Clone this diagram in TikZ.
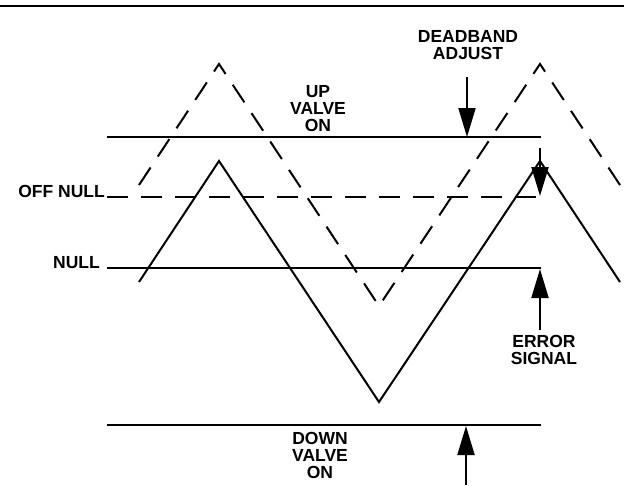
\documentclass[tikz,border=0pt]{standalone}
\usepackage{fontspec}
\setmainfont{Liberation Sans}
\usetikzlibrary{arrows.meta,positioning}

\begin{document}
\begin{tikzpicture}[x=1pt,y=-1pt,
	caption/.style={font=\fontsize{17.5}{17}\selectfont\bfseries, align=center, inner sep=0pt},
	level/.style={line width=2pt},
	offlevel/.style={line width=2pt, dash pattern=on 21pt off 13pt},
	pointer/.style={line width=2pt, -{Triangle[length=29pt,width=17pt]}},]
						\useasboundingbox (0,0) rectangle (624,485);
						\draw[line width=2.8pt] (0,6) -- (624,6);

						% levels
						\coordinate (upL) at (107,137);
						\coordinate (upR) at (541,137);
						\coordinate (offL) at (107,197);
						\coordinate (offR) at (541,197);
						\coordinate (nullL) at (107,268);
						\coordinate (nullR) at (541,268);
						\coordinate (downL) at (107,425);
						\coordinate (downR) at (541,425);
						\draw[level] (upL) -- (upR);
						\draw[offlevel] (offL) -- (offR);
						\draw[level] (nullL) -- (nullR);
						\draw[level] (downL) -- (downR);

						% error signal and shifted signal
						\draw[level] (139,282) -- (219,161) -- (379,402) -- (540,161) -- (620,282);
						\draw[offlevel] (139,185) -- (219,64) -- (379,306) -- (540,64) -- (620,185);

						\node[caption, anchor=north](deadband) at (468,30){DEADBAND\\ADJUST};
						\node[caption, anchor=north](upvalve) at (318,85){UP\\VALVE\\ON};
						\node[caption, anchor=base east](offnull) at (105,197){OFF NULL};
						\node[caption, anchor=base east](null) at (100,268){NULL};
						\node[caption, anchor=north](error) at (544,335){ERROR\\SIGNAL};
						\node[caption, anchor=north](downvalve) at (320,432){DOWN\\VALVE\\ON};

						\coordinate (adjtop) at (467,77);
						\coordinate (adjtip) at (467,137);
						\coordinate (offtop) at (540,148);
						\coordinate (offtip) at (540,196);
						\coordinate (errbot) at (540,330);
						\coordinate (errtip) at (540,269);
						\coordinate (downbot) at (466,485);
						\coordinate (downtip) at (466,426);

						\draw[pointer](adjtop) -- (adjtip);
						\draw[pointer](offtop) -- (offtip);
						\draw[pointer](errbot) -- (errtip);
						\draw[pointer](downbot) -- (downtip);
				\end{tikzpicture}
\end{document}
